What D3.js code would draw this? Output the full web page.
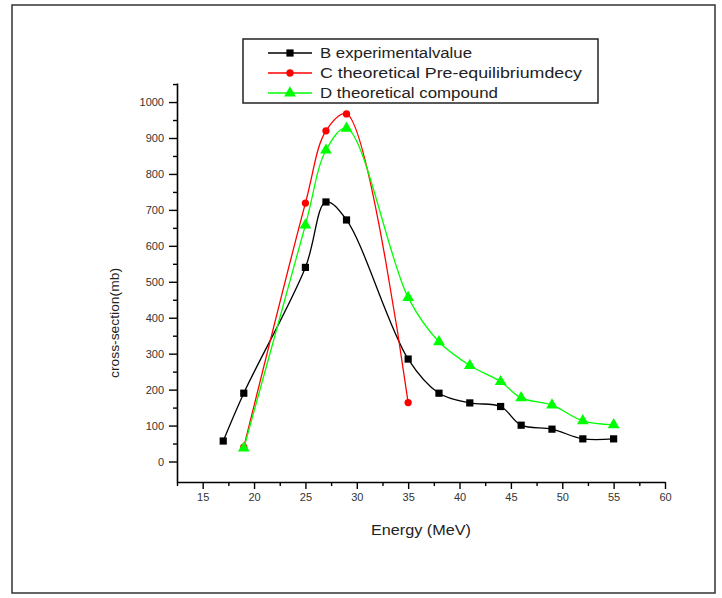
<!DOCTYPE html>
<html>
<head>
<meta charset="utf-8">
<script src="https://cdn.jsdelivr.net/npm/d3@7"></script>
<style>
  body { margin: 0; background: #fff; }
  svg { display: block; font-family: "Liberation Sans", Arial, sans-serif; }
</style>
</head>
<body>
<svg id="chart" width="722" height="598"></svg>
<script>
// ---- data ----
const seriesNames = ["B experimentalvalue", "C theoretical Pre-equilibriumdecy", "D theoretical compound"];
const expEnergy = [17, 19, 25, 27, 29, 35, 38, 41, 44, 46, 49, 52, 55];
const expValue  = [57, 190, 540, 722, 672, 285, 190, 163, 153, 101, 90, 63, 63];
const preEnergy = [19, 25, 27, 29, 35];
const preValue  = [40, 719, 920, 967, 164];
const cmpEnergy = [19, 25, 27, 29, 35, 38, 41, 44, 46, 49, 52, 55];
const cmpValue  = [37, 658, 866, 927, 456, 333, 267, 222, 177, 157, 113, 102];
const xTicks = [15, 20, 25, 30, 35, 40, 45, 50, 55, 60];
const xMinorTicks = [12.5, 17.5, 22.5, 27.5, 32.5, 37.5, 42.5, 47.5, 52.5, 57.5];
const yTicks = [0, 100, 200, 300, 400, 500, 600, 700, 800, 900, 1000];
const yMinorTicks = [50, 150, 250, 350, 450, 550, 650, 750, 850, 950, 1050];
const seriesColors = ["#000000", "#ff0000", "#00ff00"];

const svg = d3.select("#chart");

// outer frame
svg.append("rect").attr("x", 12).attr("y", 5).attr("width", 703).attr("height", 588)
  .attr("fill", "none").attr("stroke", "#333").attr("stroke-width", 1.5);

const x = d3.scaleLinear().domain([12.5, 60]).range([177, 665]);
const y = d3.scaleLinear().domain([-57, 1053]).range([482, 83]);

// axes
const gx = svg.append("g").attr("transform", "translate(0,482)");
gx.call(d3.axisBottom(x).tickValues(xTicks).tickSize(7).tickSizeOuter(0).tickPadding(4)
  .tickFormat(d3.format("d")));
const gxm = svg.append("g").attr("transform", "translate(0,482)");
gxm.call(d3.axisBottom(x).tickValues(xMinorTicks).tickSize(4).tickFormat(""));
gxm.select(".domain").remove();

const gy = svg.append("g").attr("transform", "translate(177,0)");
gy.call(d3.axisLeft(y).tickValues(yTicks).tickSize(8).tickSizeOuter(0).tickPadding(5)
  .tickFormat(d3.format("d")));
const gym = svg.append("g").attr("transform", "translate(177,0)");
gym.call(d3.axisLeft(y).tickValues(yMinorTicks).tickSize(4).tickFormat(""));
gym.select(".domain").remove();

svg.selectAll(".domain").attr("stroke", "#000").attr("stroke-width", 1.6);
svg.selectAll(".tick line").attr("stroke", "#000").attr("stroke-width", 1.4);
svg.selectAll(".tick text").attr("font-size", 11).attr("fill", "#333")
  .attr("font-family", "'Liberation Sans', Arial, sans-serif");

// axis titles
svg.append("text").attr("x", 371).attr("y", 535)
  .attr("font-size", 14).attr("fill", "#222")
  .attr("textLength", 100).attr("lengthAdjust", "spacingAndGlyphs").text("Energy (MeV)");
svg.append("text").attr("transform", "translate(119,378) rotate(-90)")
  .attr("font-size", 13).attr("fill", "#222")
  .attr("textLength", 110).attr("lengthAdjust", "spacingAndGlyphs")
  .text("cross-section(mb)");

// series
const series = [
  { name: seriesNames[0], xs: expEnergy, ys: expValue, color: seriesColors[0], shape: d3.symbolSquare, size: 52, tl: 152 },
  { name: seriesNames[1], xs: preEnergy, ys: preValue, color: seriesColors[1], shape: d3.symbolCircle, size: 42, tl: 262 },
  { name: seriesNames[2], xs: cmpEnergy, ys: cmpValue, color: seriesColors[2], shape: d3.symbolTriangle, size: 60, tl: 178 }
];

const line = d3.line().x(d => x(d[0])).y(d => y(d[1])).curve(d3.curveCatmullRom.alpha(0.5));

series.forEach(s => {
  const pts = s.xs.map((v, i) => [v, s.ys[i]]);
  svg.append("path").datum(pts).attr("d", line)
    .attr("fill", "none").attr("stroke", s.color).attr("stroke-width", 1.3);
  svg.append("g").selectAll("path").data(pts).join("path")
    .attr("transform", d => `translate(${x(d[0])},${y(d[1])})`)
    .attr("d", d3.symbol().type(s.shape).size(s.size))
    .attr("fill", s.color);
});

// legend
const lg = svg.append("g");
lg.append("rect").attr("x", 243).attr("y", 39).attr("width", 355).attr("height", 64)
  .attr("fill", "#fff").attr("stroke", "#222").attr("stroke-width", 1.5);
series.forEach((s, i) => {
  const yy = 53 + i * 20;
  lg.append("line").attr("x1", 268).attr("x2", 312).attr("y1", yy).attr("y2", yy)
    .attr("stroke", s.color).attr("stroke-width", 1.5);
  lg.append("path").attr("transform", `translate(290,${yy})`)
    .attr("d", d3.symbol().type(s.shape).size(s.size)).attr("fill", s.color);
  lg.append("text").attr("x", 320).attr("y", yy).attr("dy", "0.36em")
    .attr("font-size", 14).attr("fill", "#222")
    .attr("textLength", s.tl).attr("lengthAdjust", "spacingAndGlyphs").text(s.name);
});
</script>
</body>
</html>
